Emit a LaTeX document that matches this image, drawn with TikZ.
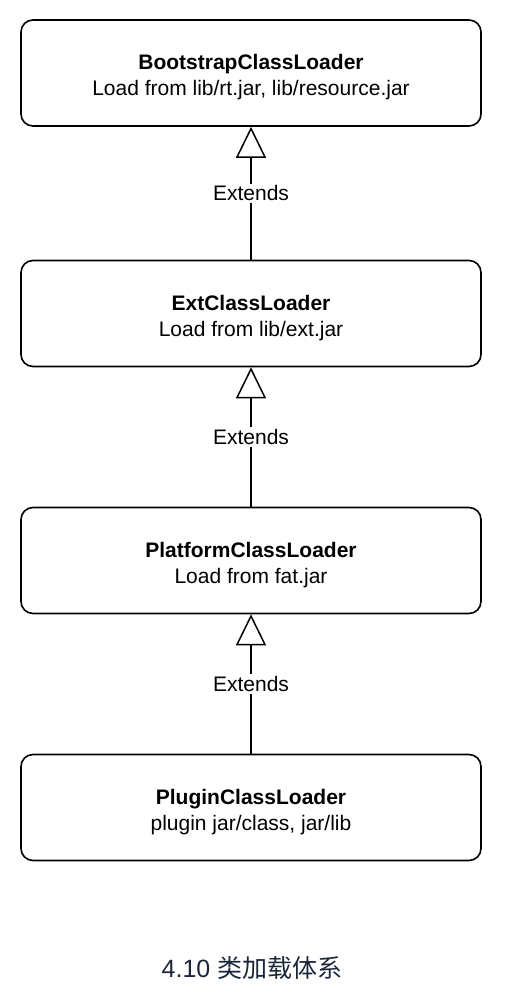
\documentclass[tikz,border=0pt]{standalone}
\usepackage{fontspec}
\setmainfont{Liberation Sans}
\newfontfamily\cjk{Noto Sans CJK SC}
\usetikzlibrary{arrows.meta}
\definecolor{capcol}{HTML}{1B2638}
\newcommand{\lowerstrut}{\rule{0pt}{24pt}}
\tikzset{
  loaderbox/.style={draw=black, line width=1.6pt, rounded corners=12pt, minimum width=460pt, minimum height=106pt, align=center, inner sep=0pt, font=\fontsize{21}{26}\selectfont},
  extarrow/.style={line width=1.5pt, -{Triangle[open, length=31pt, width=30pt, line width=1.5pt]}},
  extlabel/.style={fill=white, inner sep=2pt, font=\fontsize{21}{24}\selectfont}
}
\begin{document}
\begin{tikzpicture}[x=1pt,y=-1pt]
\useasboundingbox (0,0) rectangle (518,1002);
\node[loaderbox] (b1) at (251,73) {\lowerstrut\textbf{BootstrapClassLoader}\\Load from lib/rt.jar, lib/resource.jar};
\node[loaderbox] (b2) at (251,313.5) {\lowerstrut\textbf{ExtClassLoader}\\Load from lib/ext.jar};
\node[loaderbox] (b3) at (251,560.5) {\lowerstrut\textbf{PlatformClassLoader}\\Load from fat.jar};
\node[loaderbox] (b4) at (251,807.5) {\lowerstrut\textbf{PluginClassLoader}\\plugin jar/class, jar/lib};
\draw[extarrow] (b2.north) -- (b1.south) node[midway, extlabel] (l1) {Extends};
\draw[extarrow] (b3.north) -- (b2.south) node[midway, extlabel] (l2) {Extends};
\draw[extarrow] (b4.north) -- (b3.south) node[midway, extlabel] (l3) {Extends};
\node[text=capcol, font=\fontsize{25}{30}\selectfont] (cap) at (252,968) {4.10 {\cjk 类加载体系}};
\end{tikzpicture}
\end{document}
